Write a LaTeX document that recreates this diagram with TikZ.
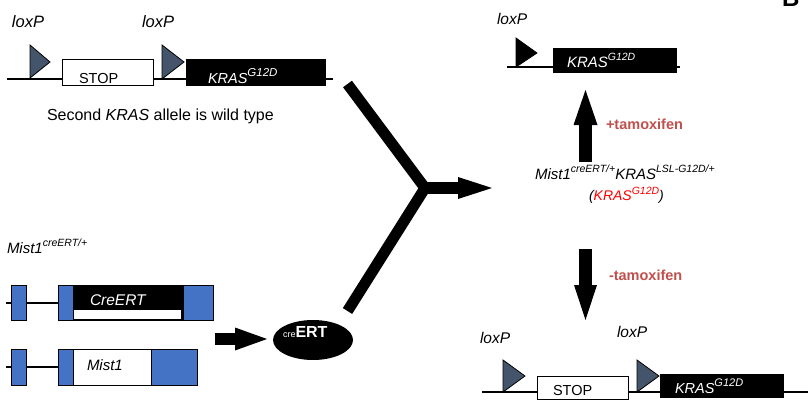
\documentclass[tikz,border=0pt]{standalone}
\usepackage{fontspec}
\setmainfont{Liberation Sans}
\usetikzlibrary{arrows.meta,shapes.geometric}
\definecolor{loxgray}{RGB}{68,84,106}
\definecolor{exonblue}{RGB}{68,114,196}
\definecolor{tamred}{RGB}{192,80,77}
\newcommand\supx[2][10]{\raisebox{0.42em}{\fontsize{#1}{#1}\selectfont #2}}
\newcommand\fsz[1]{\fontsize{#1}{#1}\selectfont}
\begin{document}
\begin{tikzpicture}[x=1pt,y=-1pt,
  lbl/.style={anchor=base west, inner sep=0pt, outer sep=0pt},
  box/.style n args={3}{draw=black, line width=1pt, inner sep=0pt, outer sep=0pt, minimum width=#1, minimum height=#2, fill=#3},
  wbox/.style n args={2}{box={#1}{#2}{white}},
  kbox/.style n args={2}{box={#1}{#2}{black}},
  bbox/.style n args={2}{box={#1}{#2}{exonblue}},
  dna/.style={line width=1.5pt},
  loxtri/.style={draw=black, line width=0.8pt, fill=loxgray},
  blockarrow/.style n args={3}{line width=#1, -{Triangle[length=#2, width=#3, line width=0pt]}},
  tam/.style={lbl, text=tamred, font=\fsz{14.5}\bfseries}
]
\useasboundingbox (0,0) rectangle (808,404);

% ---------- top-left: LSL-KRAS allele ----------
\draw[dna] (7,79) -- (333,79);
\draw[loxtri] (30,45) -- (50,62) -- (30,78) -- cycle;
\draw[loxtri] (162,45) -- (184,62) -- (162,79) -- cycle;
\node[wbox={91}{25}] (stop1) at (107.5,72.5) {};
\node[kbox={139}{25}] (kras1) at (255.5,72.5) {};
\node[lbl, font=\fsz{14.5}] (stop1t) at (79,84) {STOP};
\node[lbl, font=\fsz{14.5}\itshape, text=white] (kras1t) at (208,83) {KRAS\supx[11.5]{G12D}};
\node[lbl, font=\fsz{16.5}\itshape] (lox1) at (12,28) {loxP};
\node[lbl, font=\fsz{16.5}\itshape] (lox2) at (142,28) {loxP};
\node[lbl, font=\fsz{16}] (second) at (47,120) {Second \textit{KRAS} allele is wild type};

% ---------- bottom-left: Mist1 alleles ----------
\node[lbl, font=\fsz{15}\itshape] (mistlbl) at (7,253) {Mist1\supx[10.5]{creERT/+}};
\draw[dna] (6,303) -- (58,303);
\node[bbox={15}{35}] (g1e1) at (18.5,302.5) {};
\node[bbox={15}{35}] (g1e2) at (65.5,302.5) {};
\node[kbox={110}{35}] (g1cre) at (128,302.5) {};
\fill[white] (74,310) rectangle (181,319);
\node[bbox={30}{35}] (g1e3) at (198,302.5) {};
\node[lbl, font=\fsz{15.5}\itshape, text=white] (cret) at (90,305) {CreERT};

\draw[dna] (6,367) -- (58,367);
\node[bbox={15}{36}] (g2e1) at (18.5,367) {};
\node[bbox={15}{36}] (g2e2) at (65.5,367) {};
\node[wbox={78}{36}] (g2m) at (112,367) {};
\node[bbox={46}{36}] (g2e3) at (174,367) {};
\node[lbl, font=\fsz{15}\itshape] (mistt) at (87,370) {Mist1};

% ---------- creERT protein ----------
\coordinate (creA) at (215,339);
\coordinate (creB) at (267,339);
\draw[blockarrow={12pt}{32pt}{23pt}] (creA) -- (creB);
\node[ellipse, fill=black, minimum width=80, minimum height=40, inner sep=0pt] (ert) at (313,340) {};
\node[lbl, text=white] (ertt) at (283,337) {{\fsz{9}cre}{\fsz{16}\bfseries ERT}};

% ---------- Y-shaped merge arrow ----------
\coordinate (ytop) at (347.5,84);
\coordinate (yjoin) at (425,188);
\coordinate (ybot) at (347.5,311);
\coordinate (ytip) at (492,188);
\draw[line width=11pt, line join=miter] (ytop) -- (yjoin) -- (ybot);
\draw[blockarrow={12pt}{34pt}{22pt}] (yjoin) -- (ytip);

% ---------- middle right: genotype ----------
\node[lbl, font=\fsz{15}\itshape] (geno) at (535,179) {Mist1\supx[10.5]{creERT/+}KRAS\supx[10.5]{LSL-G12D/+}};
\node[lbl, font=\fsz{14}\itshape] (geno2) at (589,200) {(\textcolor{red}{KRAS\supx[10.5]{G12D}})};

% ---------- tamoxifen arrows ----------
\coordinate (upA) at (585.5,162);
\coordinate (upB) at (585.5,90);
\draw[blockarrow={13pt}{35pt}{24pt}] (upA) -- (upB);
\node[tam] (plus) at (606,129) {+tamoxifen};
\coordinate (dnA) at (585.5,249);
\coordinate (dnB) at (585.5,320);
\draw[blockarrow={13pt}{35pt}{23pt}] (dnA) -- (dnB);
\node[tam] (minus) at (609,280) {-tamoxifen};

% ---------- top-right: recombined allele ----------
\draw[dna] (507,67) -- (680,67);
\draw[draw=black, line width=0.8pt, fill=black] (516,38) -- (537,53) -- (516,67) -- cycle;
\node[kbox={123}{23}] (kras2) at (614.5,60.5) {};
\node[lbl, font=\fsz{15}\itshape, text=white] (kras2t) at (567,67) {KRAS\supx[10.5]{G12D}};
\node[lbl, font=\fsz{15.5}\itshape] (lox3) at (497,25) {loxP};

% ---------- bottom-right: unrecombined allele ----------
\draw[dna] (482,392) -- (808,392);
\draw[loxtri] (503,360) -- (525,376) -- (503,392) -- cycle;
\draw[loxtri] (637,360) -- (659,376) -- (637,392) -- cycle;
\node[wbox={91}{23}] (stop2) at (582.5,387.5) {};
\node[kbox={123}{23}] (kras3) at (721.5,385.5) {};
\node[lbl, font=\fsz{14.5}] (stop2t) at (553,395) {STOP};
\node[lbl, font=\fsz{14.5}\itshape, text=white] (kras3t) at (675,393) {KRAS\supx[11]{G12D}};
\node[lbl, font=\fsz{15.5}\itshape] (lox4) at (480,343) {loxP};
\node[lbl, font=\fsz{15.5}\itshape] (lox5) at (617,337) {loxP};

% ---------- panel letter ----------
\node[lbl, font=\fsz{24}\bfseries] (panelB) at (782,7) {B};
\end{tikzpicture}
\end{document}
